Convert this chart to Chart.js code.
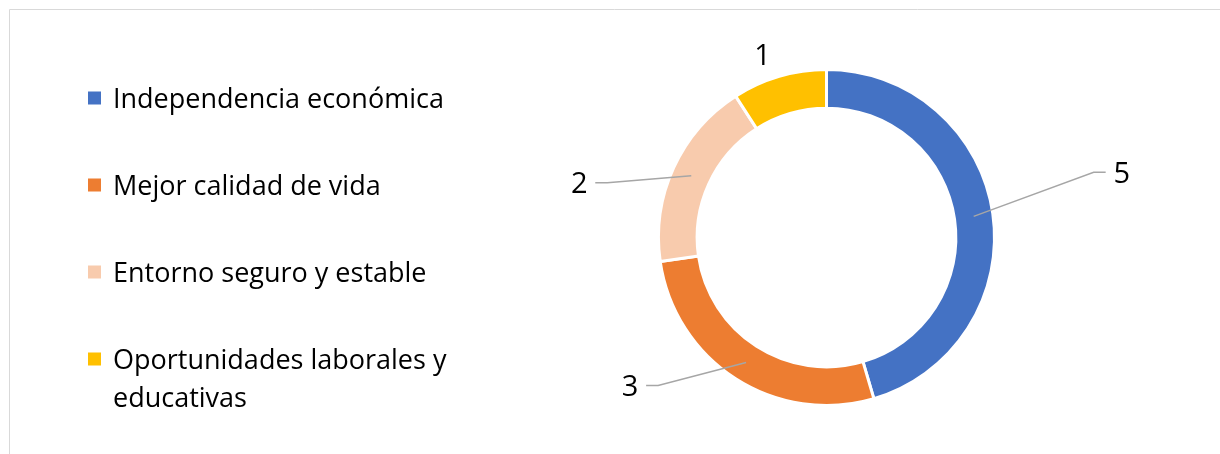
<!DOCTYPE html>
<html lang="es">
<head>
    <meta charset="UTF-8">
    <title>Motivos</title>
    <style>
        html, body { margin: 0; padding: 0; background: #fff; }
        #wrap { width: 1220px; height: 454px; position: relative; }
    </style>
</head>
<body>
    <div id="wrap"><canvas id="myChart"></canvas></div>

    <script src="https://cdn.jsdelivr.net/npm/chart.js"></script>
    <script>
        // data
        const categories = ['Independencia económica', 'Mejor calidad de vida', 'Entorno seguro y estable', 'Oportunidades laborales y educativas'];
        const counts = [5, 3, 2, 1];
        const sliceColors = ['#4472C4', '#ED7D31', '#F8CBAD', '#FFC000'];

        // where each value label sits relative to the middle of its slice (dx, dy)
        const labelOffsets = [[148, -44], [-116, 23], [-112, 7], [-22, -40]];

        const FONT = '"Open Sans", "Noto Sans", sans-serif';

        // light frame at top and left, like the original chart area
        const framePlugin = {
            id: 'frame',
            beforeDraw(chart) {
                const ctx = chart.ctx;
                ctx.save();
                ctx.strokeStyle = '#D9D9D9';
                ctx.lineWidth = 1;
                ctx.beginPath();
                ctx.moveTo(9.5, chart.height);
                ctx.lineTo(9.5, 9.5);
                ctx.lineTo(chart.width, 9.5);
                ctx.stroke();
                ctx.restore();
            }
        };

        // legend on the left, drawn by hand so it can wrap like the original
        const sideLegend = {
            id: 'sideLegend',
            afterDraw(chart) {
                const ctx = chart.ctx;
                const labels = chart.data.labels;
                const colors = chart.data.datasets[0].backgroundColor;
                ctx.save();
                ctx.font = '27px ' + FONT;
                ctx.fillStyle = '#000';
                ctx.textBaseline = 'alphabetic';
                const capHalf = ctx.measureText('I').actualBoundingBoxAscent / 2;
                const maxW = 350;
                let y = 98;
                labels.forEach((label, i) => {
                    ctx.fillStyle = colors[i];
                    ctx.fillRect(88, y - 6.5, 13, 13);
                    // wrap words
                    const words = label.split(' ');
                    const lines = [];
                    let line = '';
                    words.forEach(w => {
                        const test = line ? line + ' ' + w : w;
                        if (ctx.measureText(test).width > maxW && line) {
                            lines.push(line);
                            line = w;
                        } else {
                            line = test;
                        }
                    });
                    lines.push(line);
                    ctx.fillStyle = '#000';
                    lines.forEach((l, k) => {
                        ctx.fillText(l, 113, y + capHalf + k * 38);
                    });
                    y += 87;
                });
                ctx.restore();
            }
        };

        // value labels with grey leader lines
        const valueLabels = {
            id: 'valueLabels',
            afterDatasetsDraw(chart) {
                const ctx = chart.ctx;
                const meta = chart.getDatasetMeta(0);
                ctx.save();
                ctx.font = '29px ' + FONT;
                ctx.textAlign = 'center';
                ctx.textBaseline = 'alphabetic';
                meta.data.forEach((arc, i) => {
                    const p = arc.tooltipPosition();
                    const [dx, dy] = labelOffsets[i];
                    const lx = p.x + dx;
                    const ly = p.y + dy;
                    if (Math.hypot(dx, dy) > 80) {
                        const side = Math.sign(dx);
                        ctx.strokeStyle = '#A6A6A6';
                        ctx.lineWidth = 1.5;
                        ctx.beginPath();
                        ctx.moveTo(p.x, p.y);
                        ctx.lineTo(lx - side * 28, ly);
                        ctx.lineTo(lx - side * 16, ly);
                        ctx.stroke();
                    }
                    const txt = String(chart.data.datasets[0].data[i]);
                    const asc = ctx.measureText(txt).actualBoundingBoxAscent;
                    ctx.fillStyle = '#000';
                    ctx.fillText(txt, lx, ly + asc / 2);
                });
                ctx.restore();
            }
        };

        const ctx = document.getElementById('myChart').getContext('2d');
        new Chart(ctx, {
            type: 'doughnut',
            data: {
                labels: categories,
                datasets: [{
                    data: counts,
                    backgroundColor: sliceColors,
                    borderColor: '#FFFFFF',
                    borderWidth: 3
                }]
            },
            options: {
                responsive: true,
                maintainAspectRatio: false,
                animation: false,
                cutout: '77%',
                layout: {
                    padding: { left: 657, right: 224, top: 67, bottom: 46 }
                },
                plugins: {
                    legend: { display: false },
                    tooltip: { enabled: false }
                }
            },
            plugins: [framePlugin, sideLegend, valueLabels]
        });
    </script>
</body>
</html>
